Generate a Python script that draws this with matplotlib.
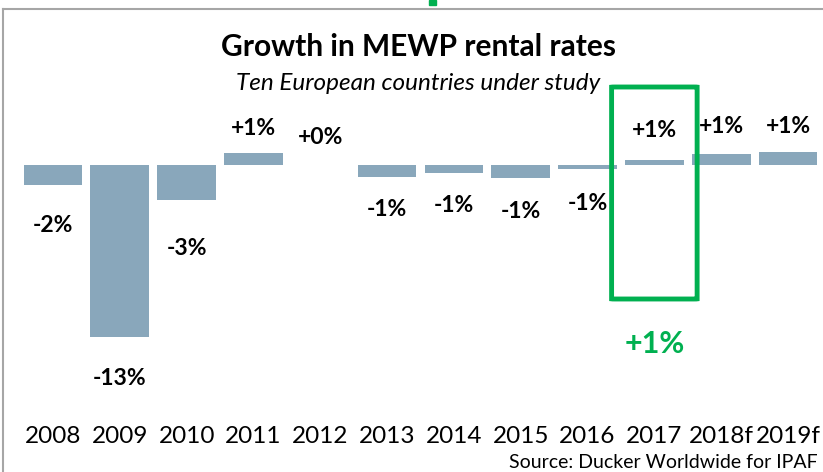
import matplotlib
matplotlib.use("Agg")
import matplotlib.pyplot as plt
from matplotlib.patches import FancyBboxPatch, Rectangle
from matplotlib.lines import Line2D

plt.rcParams['font.family'] = ['Lato', 'DejaVu Sans']

# data
years = ['2008', '2009', '2010', '2011', '2012', '2013', '2014', '2015',
         '2016', '2017', '2018f', '2019f']
growth = [-1.55, -13.0, -2.65, 0.88, 0.0, -0.88, -0.58, -1.0, -0.3, 0.4, 0.86, 1.0]
labels = ['-2%', '-13%', '-3%', '+1%', '+0%', '-1%', '-1%', '-1%', '-1%',
          '+1%', '+1%', '+1%']
# where each value label sits (in %-units, placed by hand in the original)
label_y = [-4.62, -16.2, -6.3, 2.8, 2.05, -3.4, -3.1, -3.56, -2.88, 2.58, 2.88, 2.88]
highlight = '2017'
highlight_text = '+1%'

bar_col = '#89a7bb'
green = '#00b050'

W, H = 823, 472
fig = plt.figure(figsize=(W / 100, H / 100), dpi=100)

# axes placed in pixel terms: zero line at y=165px, 13.2px per %
top_px, bot_px = 100, 420
zero_px, ppu = 165, 13.2
ax = fig.add_axes([19.6 / W, 1 - bot_px / H, 801.8 / W, (bot_px - top_px) / H])
x = range(len(years))
ax.bar(x, growth, width=0.88, color=bar_col)
ax.set_xlim(-0.5, len(years) - 0.5)
ax.set_ylim((zero_px - bot_px) / ppu, (zero_px - top_px) / ppu)
ax.set_xticks(list(x))
ax.set_xticklabels(years, fontsize=17.5)
ax.tick_params(axis='x', length=0, pad=4)
ax.set_yticks([])
for s in ax.spines.values():
    s.set_visible(False)

for i, (lab, ly) in enumerate(zip(labels, label_y)):
    ax.text(i, ly, lab, ha='center', va='center', fontsize=16.5,
            fontweight='bold', color='black', clip_on=False)

# green highlight box around 2017
hi = years.index(highlight)
y_top = (zero_px - 87) / ppu
y_bot = (zero_px - 299) / ppu
box = FancyBboxPatch((hi - 0.64, y_bot), 1.28, y_top - y_bot,
                     boxstyle='round,pad=0,rounding_size=0.05',
                     fill=False, edgecolor=green, linewidth=3.5, clip_on=False,
                     mutation_aspect=ppu / 66.8)
ax.add_patch(box)
ax.text(hi, (zero_px - 344) / ppu, highlight_text, ha='center', va='center',
        fontsize=22, fontweight='bold', color=green, clip_on=False)

# titles and source
fig.text(418 / W, 1 - 47 / H, 'Growth in MEWP rental rates', ha='center',
         va='center', fontsize=21.5, fontweight='bold')
fig.text(418 / W, 1 - 83 / H, 'Ten European countries under study',
         ha='center', va='center', fontsize=17.5, style='italic')
fig.text(818 / W, 1 - 463 / H, 'Source: Ducker Worldwide for IPAF',
         ha='right', va='center', fontsize=14)

# frame edges and clipped green mark at top
fig.add_artist(Line2D([3 / W, 3 / W], [0, 1 - 9 / H], color='#a6a6a6', lw=1.5))
fig.add_artist(Line2D([3 / W, 1], [1 - 9 / H, 1 - 9 / H], color='#a6a6a6', lw=1.5))
fig.add_artist(Rectangle((429 / W, 1 - 5 / H), 7 / W, 5 / H, color=green))

fig.savefig('out.png', dpi=100)
